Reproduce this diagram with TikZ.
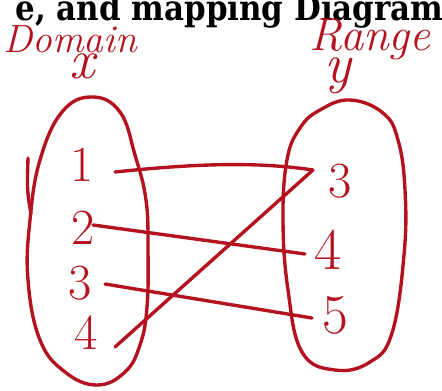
\documentclass[tikz,border=0pt]{standalone}
\usepackage{fontspec}
\usepackage{xcolor}
\usepackage{tikz}
\usetikzlibrary{positioning}
\newfontfamily\titlefont{DejaVu Serif}
\definecolor{ink}{HTML}{B3121E}

\begin{document}
\begin{tikzpicture}[x=0.025cm,y=-0.025cm,
  pen/.style={draw=ink,line width=2.4pt,line cap=round,line join=round},
  numnode/.style={text=ink,font=\fontsize{36}{36}\selectfont,inner sep=0pt},
  headnode/.style={text=ink,font=\itshape\fontsize{28}{28}\selectfont,inner sep=0pt}]
\useasboundingbox (0,0) rectangle (442,390);
\node[anchor=base east,xscale=0.88,transform shape,font=\titlefont\bfseries\fontsize{25}{25}\selectfont,inner sep=0pt] (title) at (444,20) {e, and mapping Diagram};
% headings
\node[headnode] (dom) at (70,39) {Domain};
\node[headnode,font=\itshape\fontsize{33}{33}\selectfont] (rng) at (370,39) {Range};
\node[headnode,font=\itshape\fontsize{40}{40}\selectfont] (xlab) at (82,66) {x};
\node[headnode,font=\itshape\fontsize{40}{40}\selectfont] (ylab) at (338,76) {y};
% the two sets
\draw[pen] plot[smooth cycle,tension=0.7] coordinates {(92,97) (120,112) (135,155) (146,200) (148,250) (147,307) (140,345) (125,372) (97,385) (65,372) (40,340) (28,280) (30,220) (40,160) (62,112)};
\draw[pen] (28,158) .. controls (27,190) .. (31,214);
\draw[pen] plot[smooth cycle,tension=0.7] coordinates {(350,100) (383,113) (398,140) (405,190) (404,255) (392,333) (370,362) (335,370) (302,352) (288,290) (283,220) (287,160) (300,128) (320,110)};
% domain
\node[numnode] (d1) at (82,165) {1};
\node[numnode] (d2) at (83,228) {2};
\node[numnode] (d3) at (80,283) {3};
\node[numnode] (d4) at (86,333) {4};
% range
\node[numnode] (r3) at (340,181) {3};
\node[numnode,font=\fontsize{42}{42}\selectfont] (r4) at (328,250) {4};
\node[numnode,font=\fontsize{40}{40}\selectfont] (r5) at (335,315) {5};
% arrows of the mapping
\coordinate (s1) at (115,172);
\coordinate (s2) at (93,225);
\coordinate (s3) at (105,284);
\coordinate (s4) at (115,347);
\coordinate (t3) at (313,170);
\coordinate (t4) at (305,254);
\coordinate (t5) at (312,318);
\draw[pen] (s1) .. controls (200,163) and (260,162) .. (t3);
\draw[pen] (t3) -- (s4);
\draw[pen] (s2) -- (t4);
\draw[pen] (s3) -- (t5);
\end{tikzpicture}
\end{document}
